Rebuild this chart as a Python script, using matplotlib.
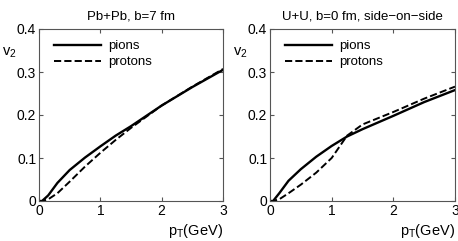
import matplotlib
matplotlib.use('Agg')
import matplotlib.pyplot as plt
import numpy as np

plt.rcParams['font.family'] = ['Liberation Sans', 'DejaVu Sans']

# values
pt = [0.0, 0.05, 0.15, 0.3, 0.5, 0.75, 1.0, 1.25, 1.5, 2.0, 2.5, 3.0]

pb_pions = [0.0, 0.0, 0.013, 0.042, 0.072, 0.101, 0.127, 0.152, 0.174, 0.222, 0.265, 0.305]
pb_protons = [0.0, 0.0, 0.004, 0.018, 0.045, 0.08, 0.112, 0.142, 0.170, 0.222, 0.266, 0.307]

uu_pions = [0.0, 0.0, 0.018, 0.047, 0.074, 0.103, 0.128, 0.150, 0.167, 0.198, 0.230, 0.258]
uu_protons = [0.0, 0.0, 0.004, 0.018, 0.038, 0.066, 0.100, 0.152, 0.178, 0.207, 0.238, 0.266]

titles = ['Pb+Pb, b=7 fm', 'U+U, b=0 fm, side\u2212on\u2212side']

fig = plt.figure(figsize=(4.58, 2.41), dpi=100)
boxes = [[39/458, 1-201/241, 184/458, 172/241], [270/458, 1-201/241, 185/458, 172/241]]
series = [(pb_pions, pb_protons), (uu_pions, uu_protons)]

for box, (pi, pr), title in zip(boxes, series, titles):
    ax = fig.add_axes(box)
    ax.plot(pt, pi, 'k-', lw=1.7, label='pions')
    ax.plot(pt, pr, 'k--', lw=1.4, label='protons')
    ax.set_xlim(0, 3)
    ax.set_ylim(0, 0.4)
    ax.set_xticks([0, 1, 2, 3])
    ax.set_yticks([0, 0.1, 0.2, 0.3, 0.4])
    ax.set_yticklabels(['0', '0.1', '0.2', '0.3', '0.4'])
    for s in ax.spines.values():
        s.set_color('#555555')
        s.set_linewidth(0.8)
    ax.tick_params(direction='in', top=True, right=True, labelsize=10, length=3, pad=2,
                   color='#555555')
    ax.set_title(title, fontsize=9.5, pad=7)
    ax.text(-0.16, 0.86, '$\\mathregular{v_2}$', transform=ax.transAxes, fontsize=10.5,
            ha='center', va='center')
    ax.text(1.0, -0.12, '$\\mathregular{p_T}$(GeV)', transform=ax.transAxes, fontsize=10.5,
            ha='right', va='top')
    ax.legend(loc='upper left', frameon=False, fontsize=9.5, handlelength=3.6,
              handletextpad=0.5, borderaxespad=0.3, labelspacing=0.3,
              bbox_to_anchor=(0.03, 0.99))

fig.savefig('out.png', dpi=100)
